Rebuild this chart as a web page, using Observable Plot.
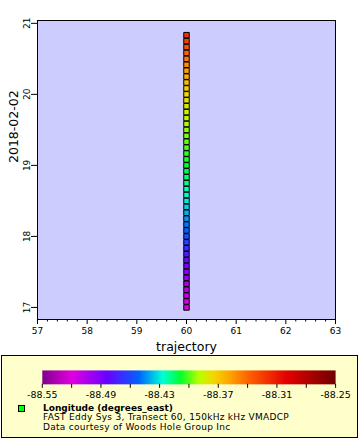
<!DOCTYPE html>
<html><head><meta charset="utf-8">
<script src="https://cdn.jsdelivr.net/npm/d3@7"></script>
<script src="https://cdn.jsdelivr.net/npm/@observablehq/plot@0.6"></script>
<style>
body{margin:0;background:#fff;font-family:"DejaVu Sans",sans-serif;width:360px;height:440px;overflow:hidden;position:relative;}
#chart{position:absolute;left:0;top:0;}
#legend{position:absolute;left:1px;top:355px;width:355px;height:81px;border:1px solid #000;background:#ffffcc;}
#bar{position:absolute;left:1px;top:0;}
.lg{position:absolute;left:41px;font-size:9px;line-height:9px;letter-spacing:0.28px;white-space:nowrap;color:#000;}
#marker{position:absolute;left:16px;top:49px;width:5px;height:5px;background:#00ff00;border:1px solid #000;}
</style></head><body>
<div id="chart"></div>
<div id="legend">
  <div id="bar"></div>
  <div id="marker"></div>
  <div class="lg" id="l1" style="top:47.5px;font-weight:bold;letter-spacing:0"></div>
  <div class="lg" id="l2" style="top:57px"></div>
  <div class="lg" id="l3" style="top:66.5px"></div>
</div>
<script>
// trajectory of all points
const trajectory = 60;
// times on 2018-02-02 (HH:MM)
const times = ["17:00","17:05","17:10","17:15","17:20","17:25","17:30","17:35","17:40","17:45","17:50","17:55",
  "18:00","18:05","18:10","18:15","18:20","18:25","18:30","18:35","18:40","18:45","18:50","18:55",
  "19:00","19:05","19:10","19:15","19:20","19:25","19:30","19:35","19:40","19:45","19:50","19:55",
  "20:00","20:05","20:10","20:15","20:20","20:25","20:30","20:35","20:40","20:45","20:50"];
// longitude (degrees_east)
const longitudes = [-88.523,-88.518,-88.513,-88.508,-88.503,-88.498,-88.493,-88.487,-88.481,-88.475,-88.469,-88.463,
  -88.457,-88.452,-88.448,-88.443,-88.439,-88.434,-88.430,-88.426,-88.423,-88.419,-88.416,-88.412,
  -88.409,-88.406,-88.404,-88.401,-88.399,-88.396,-88.394,-88.391,-88.388,-88.385,-88.382,-88.379,
  -88.376,-88.371,-88.366,-88.362,-88.357,-88.352,-88.345,-88.339,-88.332,-88.326,-88.319];
const xTicks = [57,58,59,60,61,62,63];
const xMinorTicks = [57.2,57.4,57.6,57.8,58.2,58.4,58.6,58.8,59.2,59.4,59.6,59.8,60.2,60.4,60.6,60.8,61.2,61.4,61.6,61.8,62.2,62.4,62.6,62.8];
const yTicks = [17,18,19,20,21];
const colorTicks = [-88.55,-88.49,-88.43,-88.37,-88.31,-88.25];
const colorMinorTicks = [-88.52,-88.46,-88.40,-88.34,-88.28];
const colorStops = [-88.55,-88.52,-88.484,-88.451,-88.427,-88.409,-88.39,-88.375,-88.357,-88.34,-88.3,-88.25];
const colorRange = ["#80008c","#e000e0","#6a00ff","#0064ff","#00ffd8","#00ff30","#b8ff00","#f4d800","#ffa000","#ff6400","#e40000","#700000"];
const legendTitle = "Longitude (degrees_east)";
const legendLine2 = "FAST Eddy Sys 3, Transect 60, 150kHz kHz VMADCP";
const legendLine3 = "Data courtesy of Woods Hole Group Inc";
const xLabel = "trajectory";
const yLabel = "2018-02-02";

const toHours = s => { const [h, m] = s.split(":").map(Number); return h + m / 60; };
const data = times.map((t, i) => ({traj: trajectory, hour: toHours(t), lon: longitudes[i]}));
const colorScale = {type: "linear", domain: colorStops, range: colorRange, interpolate: "rgb"};

const main = Plot.plot({
  width: 360, height: 355,
  marginLeft: 37, marginRight: 25, marginTop: 20, marginBottom: 36,
  style: {fontFamily: "DejaVu Sans, sans-serif", fontSize: "9px", background: "#fff", color: "#000", overflow: "visible"},
  x: {domain: [57, 63]},
  y: {domain: [16.83, 21.04]},
  color: colorScale,
  marks: [
    Plot.frame({fill: "#ccccff"}),
    Plot.axisX({ticks: xTicks, tickSize: 5, tickPadding: 3, label: null, tickFormat: d => String(d)}),
    Plot.axisX({ticks: xMinorTicks, tickSize: 2.5, text: null, label: null}),
    Plot.axisY({ticks: yTicks, tickSize: 6, tickPadding: 2, tickRotate: -90, label: null, tickFormat: d => String(d)}),
    Plot.text([xLabel], {frameAnchor: "bottom", dy: 31, fontSize: 12.5}),
    Plot.text([yLabel], {frameAnchor: "left", rotate: -90, dx: -24, dy: -7, fontSize: 12.5}),
    Plot.dot(data, {x: "traj", y: "hour", fill: "lon", symbol: "square", r: 3.1, stroke: "#000", strokeWidth: 1}),
    Plot.frame({stroke: "#000"})
  ]
});
document.getElementById("chart").append(main);

const bar = Plot.plot({
  width: 356, height: 46,
  marginLeft: 39, marginRight: 22, marginTop: 14, marginBottom: 18,
  style: {fontFamily: "DejaVu Sans, sans-serif", fontSize: "9.5px", background: "transparent", color: "#000"},
  x: {domain: [-88.55, -88.25]},
  y: {domain: [0, 1], axis: null},
  color: colorScale,
  marks: [
    Plot.raster({fill: (x, y) => x, x1: -88.55, x2: -88.25, y1: 0, y2: 1, width: 300, height: 1, imageRendering: "auto"}),
    Plot.axisX({ticks: colorTicks, tickSize: 4, tickPadding: 3, label: null, tickFormat: d => d.toFixed(2)}),
    Plot.axisX({ticks: colorMinorTicks, tickSize: 4, text: null, label: null})
  ]
});
document.getElementById("bar").append(bar);
document.getElementById("l1").textContent = legendTitle;
document.getElementById("l2").textContent = legendLine2;
document.getElementById("l3").textContent = legendLine3;
</script>
</body></html>
